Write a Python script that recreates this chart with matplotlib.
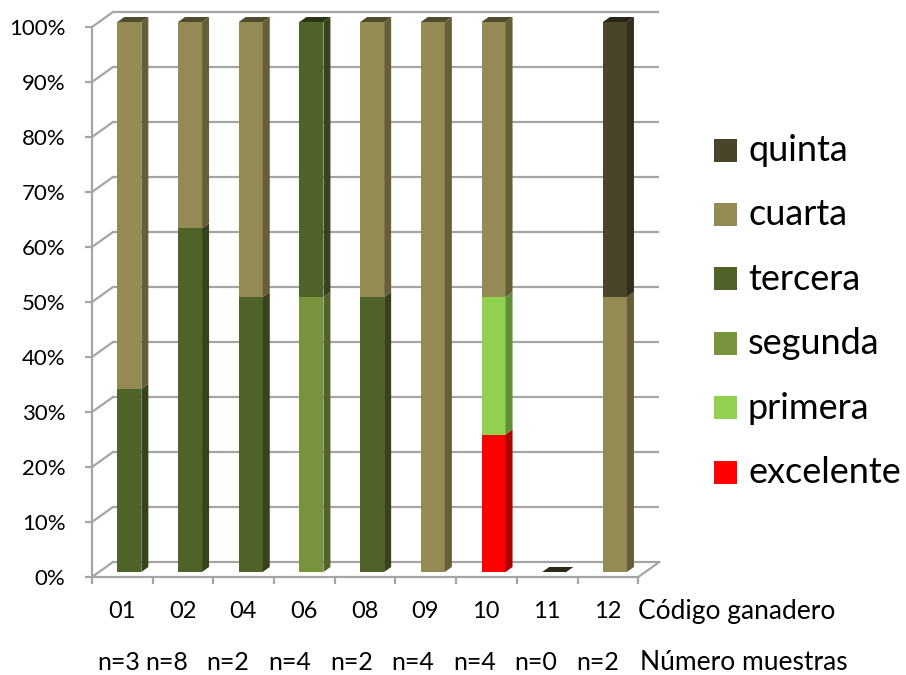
import numpy as np
import matplotlib
matplotlib.use("Agg")
import matplotlib.pyplot as plt
from matplotlib.patches import Polygon, Rectangle
from matplotlib.colors import to_rgb

plt.rcParams['font.family'] = ['Lato', 'DejaVu Sans']

# ---- data -------------------------------------------------------------
categories = ['01', '02', '04', '06', '08', '09', '10', '11', '12']
sample_labels = ['n=3', 'n=8', 'n=2', 'n=4', 'n=2', 'n=4', 'n=4', 'n=0', 'n=2']

series_names = ['excelente', 'primera', 'segunda', 'tercera', 'cuarta', 'quinta']
excelente = [0, 0, 0, 0, 0, 0, 25, 0, 0]
primera = [0, 0, 0, 0, 0, 0, 25, 0, 0]
segunda = [0, 0, 0, 50, 0, 0, 0, 0, 0]
tercera = [33.3, 62.5, 50, 50, 50, 0, 0, 0, 0]
cuarta = [66.7, 37.5, 50, 0, 50, 100, 50, 0, 50]
quinta = [0, 0, 0, 0, 0, 0, 0, 0, 50]

series_colors = ['#FF0000', '#92D050', '#77933C', '#4F6228', '#948A54', '#4A452A']
series_values = [excelente, primera, segunda, tercera, cuarta, quinta]

# ---- geometry of the pseudo-3D box (data units) -------------------------
PX_X = 60.7          # pixels per category
PX_Y = 5.5           # pixels per percent
DX = 21 / PX_X       # depth shift of the back wall
DY = 15 / PX_Y
BAR_W = 24 / PX_X
FX, FY = DX / 3, DY / 3      # bar front face sits one third into the depth
SX, SY = DX / 3, DY / 3      # bar depth

GRID = '#A5A5A5'
GRID_LW = 1.6

W, H = 906, 675
fig = plt.figure(figsize=(W / 100, H / 100), dpi=100)
x0_px, y0_px = 92, 577
xmax, ymax = 9.5, 104
ax = fig.add_axes([x0_px / W, (H - y0_px) / H, xmax * PX_X / W, ymax * PX_Y / H])
ax.set_xlim(0, xmax)
ax.set_ylim(0, ymax)
ax.patch.set_visible(False)

n_cat = len(categories)

# back wall gridlines and left wall diagonals
for v in range(0, 101, 10):
    ax.plot([DX, n_cat + DX], [v + DY, v + DY], color=GRID, lw=GRID_LW,
            solid_capstyle='butt', clip_on=False, zorder=1)
    ax.plot([0, DX], [v, v + DY], color=GRID, lw=GRID_LW, clip_on=False, zorder=1)
# floor right edge
ax.plot([n_cat, n_cat + DX], [0, DY], color=GRID, lw=GRID_LW, clip_on=False, zorder=1)

# spines as the front edges
for s in ['top', 'right']:
    ax.spines[s].set_visible(False)
for s in ['left', 'bottom']:
    ax.spines[s].set_color(GRID)
    ax.spines[s].set_linewidth(GRID_LW)
ax.spines['left'].set_bounds(0, 100)
ax.spines['bottom'].set_bounds(0, n_cat)

ax.set_yticks(range(0, 101, 10))
ax.set_yticklabels([f'{v}%' for v in range(0, 101, 10)], fontsize=16)
ax.set_xticks(range(0, n_cat + 1))
ax.set_xticklabels([])
ax.tick_params(axis='both', color=GRID, width=GRID_LW, length=5, direction='out')
ax.tick_params(axis='y', pad=14)


def shade(c, f):
    r, g, b = to_rgb(c)
    return (r * f, g * f, b * f)


# stacked bars
x_front = np.arange(n_cat) + 0.5 + FX
bottom = np.zeros(n_cat)
for vals, col in zip(series_values, series_colors):
    vals = np.asarray(vals, dtype=float)
    ax.bar(x_front, vals, bottom=bottom + FY, width=BAR_W, color=col,
           linewidth=0, zorder=3)
    for i in range(n_cat):
        if vals[i] <= 0:
            continue
        xr = x_front[i] + BAR_W / 2
        yb = bottom[i] + FY
        yt = yb + vals[i]
        side = Polygon([(xr, yb), (xr + SX, yb + SY), (xr + SX, yt + SY), (xr, yt)],
                       closed=True, facecolor=shade(col, 0.68), edgecolor='none',
                       zorder=3, clip_on=False)
        ax.add_patch(side)
    bottom = bottom + vals

# top faces of the stacks
topmost = []
for i in range(n_cat):
    col = series_colors[-1]
    for vals, c in zip(series_values, series_colors):
        if vals[i] > 0:
            col = c
    topmost.append(col)
for i in range(n_cat):
    xl = x_front[i] - BAR_W / 2
    xr = x_front[i] + BAR_W / 2
    yt = bottom[i] + FY
    f = 0.55 if bottom[i] > 0 else 0.6
    top = Polygon([(xl, yt), (xr, yt), (xr + SX, yt + SY), (xl + SX, yt + SY)],
                  closed=True, facecolor=shade(topmost[i], f), edgecolor='none',
                  zorder=4, clip_on=False)
    ax.add_patch(top)

# category labels and sample counts
row1_y = -(612 - y0_px) / PX_Y
row2_y = -(662 - y0_px) / PX_Y
for i, lab in enumerate(categories):
    ax.text(i + 0.49, row1_y, lab, ha='center', va='center', fontsize=17)
ax.text(n_cat - 0.01, row1_y, 'Código ganadero', ha='left', va='center', fontsize=19)

N_LABEL_X = [0.437, 1.228, 2.24, 3.255, 4.27, 5.289, 6.30, 7.306, 8.327]
for xp, lab in zip(N_LABEL_X, sample_labels):
    ax.text(xp, row2_y, lab, ha='center', va='center', fontsize=18)
ax.text(n_cat + 0.03, row2_y, 'Número muestras', ha='left', va='center', fontsize=19)

# legend (top entry is the last series)
leg_x, leg_y0, leg_step, box = 714, 150, 64.4, 23
for k, (name, col) in enumerate(zip(series_names[::-1], series_colors[::-1])):
    cy = leg_y0 + k * leg_step
    fig.patches.append(Rectangle((leg_x / W, 1 - (cy + box / 2) / H), box / W, box / H,
                                 transform=fig.transFigure, facecolor=col,
                                 edgecolor='none'))
    fig.text((leg_x + 34) / W, 1 - (cy + 11) / H, name, ha='left', va='baseline',
             fontsize=26)

fig.savefig('out.png', dpi=100)
